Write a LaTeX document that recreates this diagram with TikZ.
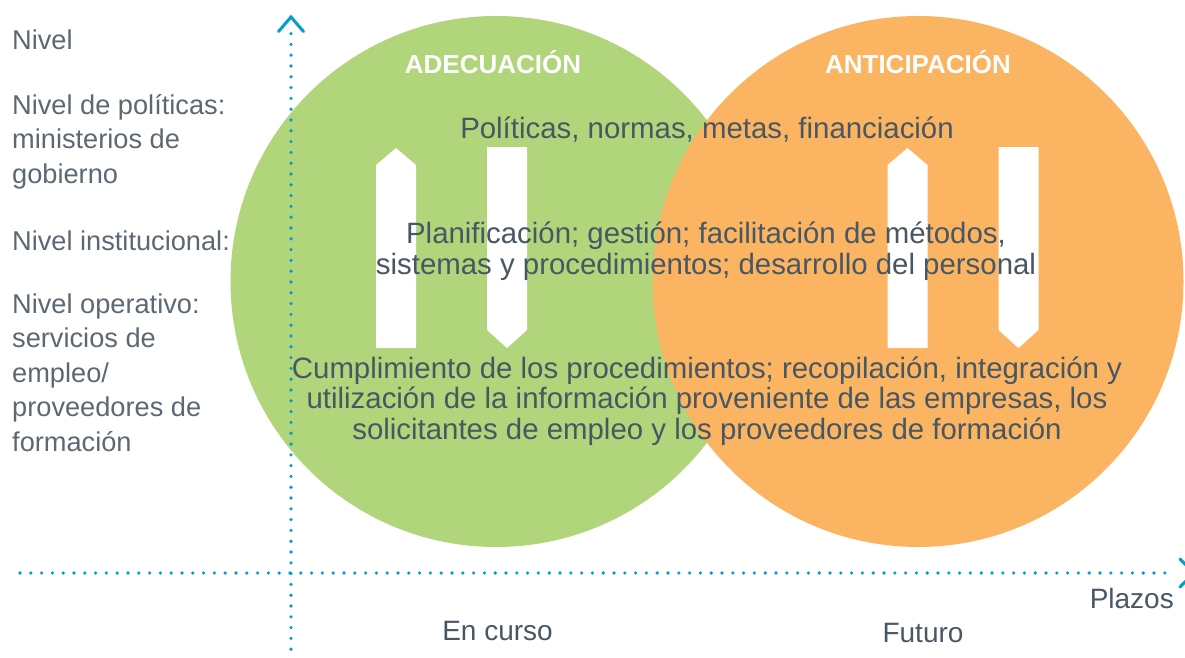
\documentclass[tikz,border=0pt]{standalone}
\usepackage{fontspec}
\setmainfont{Liberation Sans}

\definecolor{verde}{RGB}{177,213,122}
\definecolor{naranja}{RGB}{251,180,97}
\definecolor{eje}{RGB}{0,158,200}
\definecolor{tinta}{RGB}{72,87,100}
\definecolor{tintaclara}{RGB}{92,104,114}

\tikzset{
    puntos/.style={eje,line width=3.6pt,line cap=round,dash pattern=on 0pt off 10.8pt},
    punta/.style={eje,line width=3pt,line cap=round,line join=miter},
    flecha/.style={white},
    titulo/.style={white,anchor=base,font=\fontsize{26}{30}\selectfont\bfseries},
    nivel/.style={tintaclara,anchor=base west,align=left,inner sep=0pt,
        font=\fontsize{27.2}{34.5}\selectfont},
    cuerpo/.style={tinta,anchor=base,align=center,inner sep=0pt,
        font=\fontsize{29.4}{30.5}\selectfont},
    plazo/.style={tinta,anchor=base,inner sep=0pt,font=\fontsize{28}{30}\selectfont}
}

\begin{document}
\begin{tikzpicture}[x=1pt,y=-1pt]
    \useasboundingbox (0,0) rectangle (1185,658);

    % circulos
    \fill [verde] (496,281.5) circle (265.5pt);
    \fill [naranja] (918,281.5) circle (265.5pt);

    % flechas blancas
    \begin{scope}[
        xshift=0pt
    ]
        \fill [flecha] (376,348) -- (376,165) -- (396,148) -- (416,165) -- (416,348) -- cycle;
        \fill [flecha] (487,147) -- (527,147) -- (527,330) -- (507,348) -- (487,330) -- cycle;
    \end{scope}
    \begin{scope}[
        xshift=511.5pt
    ]
        \fill [flecha] (376,348) -- (376,165) -- (396,148) -- (416,165) -- (416,348) -- cycle;
        \fill [flecha] (487,147) -- (527,147) -- (527,330) -- (507,348) -- (487,330) -- cycle;
    \end{scope}

    % ejes
    \coordinate (ejeyarriba) at (291,30);
    \coordinate (ejeyabajo) at (291,660);
    \coordinate (ejexizq) at (20,573);
    \coordinate (ejexder) at (1172,573);
    \draw [puntos] (ejeyabajo) -- (ejeyarriba);
    \draw [puntos] (ejexizq) -- (ejexder);
    \draw [punta] (278.5,31.5) -- (291,17) -- (303.5,31.5);
    \draw [punta] (1180,559) -- (1194,573) -- (1180,587);

    % titulos
    \node [titulo] (adecuacion) at (493,74) {ADECUACIÓN};
    \node [titulo] (anticipacion) at (918,74) {ANTICIPACIÓN};

    % textos centrales (base = ultima linea)
    \node [cuerpo] (politicas) at (707,138.3) {Políticas, normas, metas, financiación};
    \node [cuerpo] (planificacion) at (706,274.3)
        {Planificación; gestión; facilitación de métodos,\\
         sistemas y procedimientos; desarrollo del personal};
    \node [cuerpo] (cumplimiento) at (707,439)
        {Cumplimiento de los procedimientos; recopilación, integración y\\
         utilización de la información proveniente de las empresas, los\\
         solicitantes de empleo y los proveedores de formación};

    % niveles
    \node [nivel] (nivel) at (12,50) {Nivel};
    \node [nivel] (politico) at (12,183) {Nivel de políticas:\\ministerios de\\gobierno};
    \node [nivel] (institucional) at (12,250) {Nivel institucional:};
    \node [nivel] (operativo) at (12,451)
        {Nivel operativo:\\servicios de\\empleo/\\proveedores de\\formación};

    % plazos
    \node [plazo,anchor=base east] (plazos) at (1174,608) {Plazos};
    \node [plazo] (encurso) at (497.5,640) {En curso};
    \node [plazo] (futuro) at (923,642) {Futuro};
\end{tikzpicture}
\end{document}
